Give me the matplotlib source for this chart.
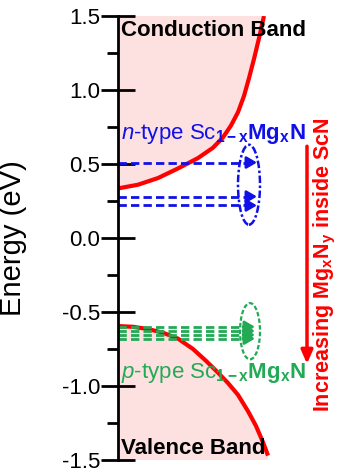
import numpy as np
import matplotlib
matplotlib.use("Agg")
import matplotlib.pyplot as plt
from matplotlib.patches import Ellipse

plt.rcParams["font.family"] = ["Liberation Sans", "DejaVu Sans"]
plt.rcParams["mathtext.fontset"] = "custom"
plt.rcParams["mathtext.rm"] = "Liberation Sans"
plt.rcParams["mathtext.it"] = "Liberation Sans:italic"
plt.rcParams["mathtext.bf"] = "Liberation Sans:bold"

# band edges (x is an arbitrary horizontal coordinate, y in eV)
cb_x = [0, 20, 40, 60, 80, 95, 105, 113, 120, 126, 131, 136, 141, 146]
cb_y = [0.335, 0.36, 0.405, 0.47, 0.54, 0.61, 0.68, 0.76, 0.85, 0.96, 1.08, 1.21, 1.35, 1.50]
vb_x = [0, 15, 30, 45, 60, 75, 88, 100, 110, 120, 130, 138, 145, 150]
vb_y = [-0.595, -0.60, -0.615, -0.64, -0.68, -0.75, -0.83, -0.91, -0.98, -1.06, -1.17, -1.27, -1.38, -1.47]

# defect levels
n_levels = [0.51, 0.28, 0.22]
p_levels = [-0.60, -0.628, -0.655, -0.68]

y_ticks = [-1.5, -1.0, -0.5, 0.0, 0.5, 1.0, 1.5]

blue = "#1010e8"
green = "#22aa55"
red = "#ff0000"
pink = "#fde0e0"

fig = plt.figure(figsize=(3.39, 4.74), dpi=100)
ax = fig.add_axes([118 / 339, 14 / 474, 221 / 339, 444 / 474])
ax.set_xlim(0, 221)
ax.set_ylim(-1.5, 1.5)

# conduction band
cx = np.array(cb_x)
cy = np.array(cb_y)
ax.fill([0] + list(cx) + [0], [cy[0]] + list(cy) + [1.5], color=pink, lw=0)
ax.plot(cx, cy, color=red, lw=3, solid_capstyle="butt")

# valence band
vx = np.array(vb_x)
vy = np.array(vb_y)
ax.fill([0] + list(vx) + [vx[-1], 0], [vy[0]] + list(vy) + [-1.5, -1.5], color=pink, lw=0)
ax.plot(vx, vy, color=red, lw=3, solid_capstyle="butt")

# n-type levels
for y in n_levels:
    ax.plot([0, 132], [y, y], color=blue, lw=2, ls=(0, (3, 1.5)))
    ax.annotate("", xy=(139, y), xytext=(129, y),
                arrowprops=dict(arrowstyle="-|>,head_length=0.6,head_width=0.35",
                                color=blue, lw=2, shrinkA=0, shrinkB=0))
ax.add_patch(Ellipse((131, 0.36), 22, 0.54, fill=False, ec=blue, lw=1.8,
                     ls=(0, (3, 1, 1, 1))))

# p-type levels
for y in p_levels:
    ax.plot([0, 128], [y, y], color=green, lw=2, ls=(0, (3, 1.5)))
    ax.annotate("", xy=(137, y), xytext=(125, y),
                arrowprops=dict(arrowstyle="-|>,head_length=0.6,head_width=0.35",
                                color=green, lw=2, shrinkA=0, shrinkB=0))
ax.add_patch(Ellipse((132, -0.63), 20, 0.38, fill=False, ec=green, lw=1.6,
                     ls=(0, (2, 1))))

# red arrow
ax.annotate("", xy=(189, -0.85), xytext=(189, 0.62),
            arrowprops=dict(arrowstyle="-|>,head_length=0.8,head_width=0.35",
                            color=red, lw=2.5, shrinkA=0, shrinkB=0))

ax.text(3, 1.40, "Conduction Band", fontsize=16, fontweight="bold",
        color="black", va="center", ha="left")
ax.text(3, -1.42, "Valence Band", fontsize=16, fontweight="bold",
        color="black", va="center", ha="left")
ax.text(3, 0.70, r"$\it{n}$-type Sc$_{\bf{1-x}}$$\bf{Mg_xN}$", fontsize=16,
        color=blue, va="center", ha="left")
ax.text(3, -0.91, r"$\it{p}$-type Sc$_{\bf{1-x}}$$\bf{Mg_xN}$", fontsize=16,
        color=green, va="center", ha="left")
ax.text(207, -0.18, r"Increasing Mg$_\mathbf{x}$N$_\mathbf{y}$ inside ScN", fontsize=15.5,
        color=red, fontweight="bold", rotation=90, va="center", ha="center")

ax.set_yticks(y_ticks)
ax.set_yticklabels([f"{t:.1f}" for t in y_ticks])
ax.set_yticks(np.arange(-1.25, 1.5, 0.5), minor=True)
ax.tick_params(axis="y", which="major", direction="inout", length=24, width=2,
               labelsize=16, pad=1, colors="black")
ax.tick_params(axis="y", which="minor", direction="out", length=8, width=2)
ax.set_xticks([])
for s in ["top", "right", "bottom"]:
    ax.spines[s].set_visible(False)
ax.spines["left"].set_linewidth(2)
ax.set_ylabel("Energy (eV)", fontsize=21)
ax.yaxis.set_label_coords(-0.41, 0.5)

fig.savefig("out.png", dpi=100)
